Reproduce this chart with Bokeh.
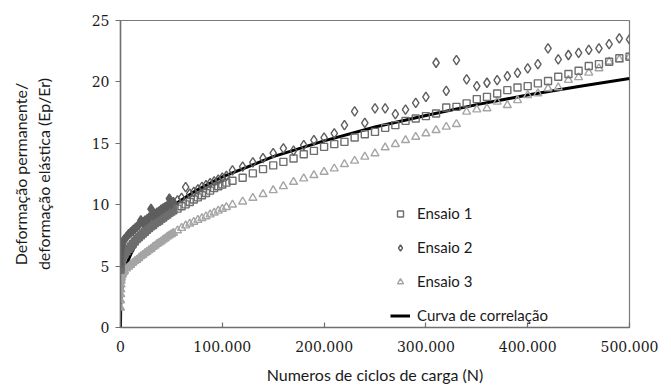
from bokeh.plotting import figure
from bokeh.models import ColumnDataSource, Legend, LegendItem, FixedTicker, Range1d
from bokeh.embed import file_html
from bokeh.resources import INLINE

# ---------------- data ----------------
ciclos = [0, 100, 200, 300, 500, 700, 1000, 1500, 2000, 3000, 4000,
          6000, 8000, 10000, 12000, 14000, 16000, 18000, 20000, 22000, 24000,
          26000, 28000, 30000, 32000, 34000, 36000, 38000, 40000, 42000, 44000,
          46000, 48000, 50000, 52000,
          56000, 60000, 64000, 68000, 72000, 76000, 80000, 84000, 88000, 92000,
          96000, 100000, 104000,
          110000, 120000, 130000, 140000, 150000, 160000, 170000, 180000, 190000, 200000,
          210000, 220000, 230000, 240000, 250000, 260000, 270000, 280000, 290000, 300000,
          310000, 320000, 330000, 340000, 350000, 360000, 370000, 380000, 390000, 400000,
          410000, 420000, 430000, 440000, 450000, 460000, 470000, 480000, 490000, 500000]

ensaio1 = [4.7, 4.9, 5.05, 5.2, 5.35, 5.45, 5.55, 5.65, 5.75, 5.9, 6.0,
           6.2, 6.4, 6.6, 6.8, 7.0, 7.2, 7.35, 7.5, 7.65, 7.8,
           7.95, 8.1, 8.25, 8.35, 8.5, 8.6, 8.7, 8.85, 8.95, 9.1,
           9.2, 9.35, 9.45, 9.55,
           9.68, 9.87, 10.03, 10.22, 10.42, 10.6, 10.77, 10.95, 11.15, 11.35,
           11.5, 11.65, 11.8,
           11.95, 12.2, 12.55, 12.9, 13.2, 13.49, 13.76, 14.11, 14.38, 14.71,
           14.93, 15.12, 15.47, 15.74, 15.93, 16.26, 16.48, 16.83, 17.02, 17.21,
           17.43, 17.92, 17.97, 18.25, 18.6, 18.78, 19.06, 19.33, 19.55, 19.66,
           19.88, 20.07, 20.42, 20.64, 20.91, 21.29, 21.45, 21.64, 21.92, 22.05]

ensaio2 = [5.2, 5.6, 5.9, 6.1, 6.3, 6.45, 6.6, 6.75, 6.9, 7.05, 7.2,
           7.4, 7.6, 7.75, 7.9, 8.05, 8.2, 8.35, 8.73, 8.55, 8.7,
           8.8, 8.95, 9.65, 9.15, 9.25, 9.35, 9.45, 9.6, 9.7, 9.8,
           9.9, 10.5, 10.05, 10.2,
           10.35, 10.55, 11.44, 10.9, 11.05, 11.25, 11.45, 11.6, 11.75, 11.9,
           12.05, 12.2, 12.35,
           12.8, 13.1, 13.45, 13.8, 14.2, 14.58, 14.4, 14.85, 15.25, 15.47,
           15.8, 16.48, 17.6, 16.66, 17.84, 17.84, 17.37, 17.75, 18.3, 18.78,
           21.56, 19.27, 21.78, 20.2, 19.66, 19.93, 20.15, 20.47, 20.74, 21.1,
           21.45, 22.73, 21.83, 22.19, 22.37, 22.6, 22.73, 23.08, 23.55, 23.47]

ensaio3 = [1.6, 2.2, 2.7, 3.1, 3.5, 3.8, 4.05, 4.25, 4.35, 4.5, 4.6,
           4.8, 4.95, 5.1, 5.25, 5.4, 5.5, 5.65, 5.8, 5.9, 6.05,
           6.15, 6.3, 6.4, 6.55, 6.65, 6.8, 6.9, 7.0, 7.15, 7.25,
           7.4, 7.5, 7.6, 7.7,
           7.9, 8.1, 8.3, 8.45, 8.6, 8.75, 8.9, 9.05, 9.2, 9.35,
           9.5, 9.65, 9.8,
           10.0, 10.25, 10.55, 10.85, 11.17, 11.5, 11.85, 12.13, 12.4, 12.67,
           12.94, 13.3, 13.57, 13.9, 14.17, 14.66, 14.93, 15.25, 15.52, 15.8,
           16.07, 16.34, 16.56, 17.56, 17.75, 17.84, 18.38, 18.1, 18.5, 18.92,
           19.06, 19.47, 19.55, 20.15, 20.37, 20.74, 21.1, 21.64, 21.83, 22.05]

curva_n = [0, 200, 500, 1000, 2000, 3000, 5000, 7500, 10000, 15000, 20000,
           30000, 40000, 50000, 75000, 100000, 150000, 200000, 250000, 300000,
           350000, 400000, 450000, 500000]
curva_v = [0, 1.75, 2.33, 2.89, 3.59, 4.08, 4.79, 5.44, 5.95, 6.76, 7.40,
           8.40, 9.19, 9.86, 11.19, 12.26, 13.91, 15.2, 16.33, 17.27,
           18.15, 18.93, 19.63, 20.28]

# the first readings (N <= 52.000) are so close together that they merge into a band
n_denso = 35

x_ticks = [0, 100000, 200000, 300000, 400000, 500000]
x_tick_labels = ["0", "100.000", "200.000", "300.000", "400.000", "500.000"]
y_ticks = [0, 5, 10, 15, 20, 25]

series_labels = ["Ensaio 1", "Ensaio 2", "Ensaio 3", "Curva de correlação"]
x_title = "Numeros de ciclos de carga (N)"
y_title = "Deformação permanente/\ndeformação elástica (Ep/Er)"

# ---------------- figure ----------------
p = figure(width=671, height=389, output_backend="svg", toolbar_location=None,
           x_range=Range1d(0, 500000), y_range=Range1d(0, 25),
           min_border_left=120, min_border_right=42, min_border_top=20,
           min_border_bottom=62)
p.background_fill_color = "white"
p.border_fill_color = "white"
p.xgrid.visible = False
p.ygrid.visible = False
p.outline_line_color = "#7a7a7a"
p.outline_line_width = 1.2

axis_col = "#6f6f6f"
p.axis.axis_line_color = axis_col
p.axis.axis_line_width = 1.5
p.axis.major_tick_line_color = axis_col
p.axis.major_tick_line_width = 1.2
p.axis.minor_tick_line_color = None
p.axis.major_label_text_font = "DejaVu Serif"
p.axis.major_label_text_font_size = "14px"
p.axis.major_label_text_color = "#1a1a1a"
p.axis.axis_label_text_font = "Lato"
p.axis.axis_label_text_font_size = "16px"
p.axis.axis_label_text_font_style = "normal"
p.axis.axis_label_text_color = "#1a1a1a"

p.xaxis.ticker = FixedTicker(ticks=x_ticks)
p.xaxis.major_label_overrides = {t: l for t, l in zip(x_ticks, x_tick_labels)}
p.xaxis.major_tick_in = 5
p.xaxis.major_tick_out = 0
p.xaxis.major_label_standoff = 13
p.xaxis.axis_label = x_title
p.xaxis.axis_label_standoff = 10

p.yaxis.ticker = FixedTicker(ticks=y_ticks)
p.yaxis.major_tick_in = 0
p.yaxis.major_tick_out = 5
p.yaxis.major_label_standoff = 6
p.yaxis.axis_label = y_title
p.yaxis.axis_label_standoff = 36

k = n_denso
dense = ColumnDataSource(dict(n=ciclos[:k], e1=ensaio1[:k], e2=ensaio2[:k], e3=ensaio3[:k]))
rest = ColumnDataSource(dict(n=ciclos[k:], e1=ensaio1[k:], e2=ensaio2[k:], e3=ensaio3[k:]))

rc = p.line(curva_n, curva_v, line_color="black", line_width=3)

c1, c2, c3 = "#6e6e6e", "#5e5e5e", "#a5a5a5"
# dense band (merged markers)
p.scatter("n", "e3", source=dense, marker="triangle", size=8,
          line_color=c3, fill_color=c3, line_width=1.4)
p.scatter("n", "e1", source=dense, marker="square", size=7,
          line_color=c1, fill_color=c1, line_width=1.4)
p.scatter("n", "e2", source=dense, marker="diamond", size=9.5,
          line_color=c2, fill_color=c2, line_width=1.4)
# individual readings
r3 = p.scatter("n", "e3", source=rest, marker="triangle", size=8,
               line_color=c3, line_width=1.4, fill_alpha=0)
r1 = p.scatter("n", "e1", source=rest, marker="square", size=7,
               line_color=c1, line_width=1.4, fill_alpha=0)
r2 = p.scatter("n", "e2", source=rest, marker="diamond", size=9.5,
               line_color=c2, line_width=1.4, fill_alpha=0)

legend = Legend(items=[LegendItem(label=series_labels[0], renderers=[r1]),
                       LegendItem(label=series_labels[1], renderers=[r2]),
                       LegendItem(label=series_labels[2], renderers=[r3]),
                       LegendItem(label=series_labels[3], renderers=[rc])],
                location=(270, 2))
legend.background_fill_alpha = 0
legend.border_line_color = None
legend.padding = 0
legend.margin = 0
legend.spacing = 14
legend.glyph_width = 20
legend.glyph_height = 15
legend.label_height = 20
legend.label_standoff = 7
legend.label_text_font = "Lato"
legend.label_text_font_size = "15px"
legend.label_text_color = "#1a1a1a"
p.add_layout(legend)

open("out.html", "w").write(file_html(p, INLINE))
